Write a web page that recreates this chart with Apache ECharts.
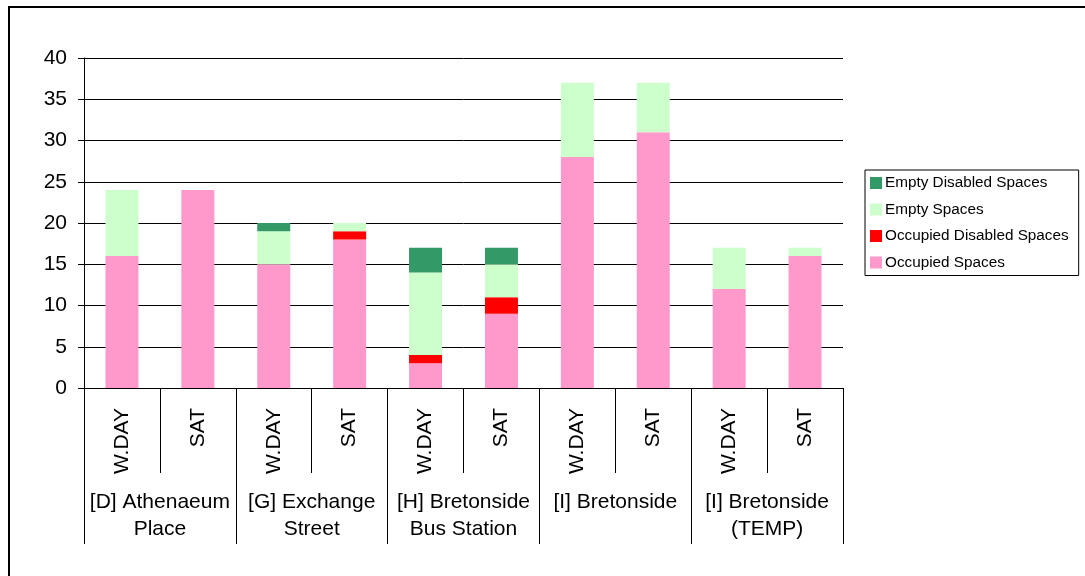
<!DOCTYPE html>
<html>
<head>
<meta charset="utf-8">
<script src="https://cdn.jsdelivr.net/npm/echarts@6/dist/echarts.min.js"></script>
<style>
  html, body { margin: 0; padding: 0; background: #fff; }
  #chart { width: 1085px; height: 576px; }
</style>
</head>
<body>
<div id="chart"></div>
<script>
// Survey days per car park, and the car parks they belong to
const days = ['W.DAY', 'SAT', 'W.DAY', 'SAT', 'W.DAY', 'SAT', 'W.DAY', 'SAT', 'W.DAY', 'SAT'];
const carParks = [
  '[D] Athenaeum\nPlace',
  '[G] Exchange\nStreet',
  '[H] Bretonside\nBus Station',
  '[I] Bretonside',
  '[I] Bretonside\n(TEMP)'
];
const yTicks = [0, 5, 10, 15, 20, 25, 30, 35, 40];

// Space counts, stacked bottom to top
const occupiedSpaces         = [16, 24, 15, 18, 3, 9, 28, 31, 12, 16];
const occupiedDisabledSpaces = [0, 0, 0, 1, 1, 2, 0, 0, 0, 0];
const emptySpaces            = [8, 0, 4, 1, 10, 4, 9, 6, 5, 1];
const emptyDisabledSpaces    = [0, 0, 1, 0, 3, 2, 0, 0, 0, 0];

const FONT = '"Liberation Sans", Arial, sans-serif';

const chart = echarts.init(document.getElementById('chart'), null, { renderer: 'canvas' });

function barSeries(name, data, color) {
  return {
    name: name,
    type: 'bar',
    stack: 'spaces',
    data: data,
    barWidth: 33,
    itemStyle: { color: color },
    emphasis: { disabled: true }
  };
}

chart.setOption({
  animation: false,
  backgroundColor: '#fff',
  textStyle: { fontFamily: FONT },
  graphic: [{
    type: 'rect',
    shape: { x: 9, y: 7, width: 1120, height: 620 },
    style: { fill: 'none', stroke: '#000', lineWidth: 2 },
    silent: true
  }],
  grid: { left: 84, right: 242, top: 58, bottom: 188 },
  legend: {
    orient: 'vertical',
    left: 865,
    top: 170,
    width: 210,
    padding: [5, 10, 5, 5],
    borderColor: '#000',
    borderWidth: 1,
    itemWidth: 12,
    itemHeight: 12,
    itemGap: 10.5,
    icon: 'rect',
    selectedMode: false,
    textStyle: { fontFamily: FONT, fontSize: 15.3, color: '#000', lineHeight: 16, padding: [0, 0, 0, -2] },
    data: ['Empty Disabled Spaces', 'Empty Spaces', 'Occupied Disabled Spaces', 'Occupied Spaces']
  },
  xAxis: [
    {
      type: 'category',
      position: 'bottom',
      data: days,
      boundaryGap: true,
      axisLine: { show: true, lineStyle: { color: '#000', width: 1 } },
      axisTick: { show: true, interval: 0, length: 85, lineStyle: { color: '#000', width: 1 } },
      axisLabel: {
        interval: 0,
        rotate: 90,
        margin: 20,
        fontFamily: FONT,
        fontSize: 21,
        color: '#000'
      },
      splitLine: { show: false }
    },
    {
      type: 'category',
      position: 'bottom',
      data: carParks,
      boundaryGap: true,
      axisLine: { show: false },
      axisTick: { show: true, interval: 0, length: 156, lineStyle: { color: '#000', width: 1 } },
      axisLabel: {
        interval: 0,
        margin: 101,
        fontFamily: FONT,
        fontSize: 21,
        lineHeight: 27,
        align: 'center',
        color: '#000'
      },
      splitLine: { show: false }
    }
  ],
  yAxis: {
    type: 'value',
    min: yTicks[0],
    max: yTicks[yTicks.length - 1],
    interval: 5,
    axisLine: { show: true, lineStyle: { color: '#000', width: 1 } },
    axisTick: { show: true, length: 6, lineStyle: { color: '#000', width: 1 } },
    axisLabel: { margin: 17, fontFamily: FONT, fontSize: 21, color: '#000' },
    splitLine: { show: true, lineStyle: { color: '#000', width: 1 } }
  },
  series: [
    barSeries('Occupied Spaces', occupiedSpaces, '#FF99CC'),
    barSeries('Occupied Disabled Spaces', occupiedDisabledSpaces, '#FF0000'),
    barSeries('Empty Spaces', emptySpaces, '#CCFFCC'),
    barSeries('Empty Disabled Spaces', emptyDisabledSpaces, '#339966')
  ]
});
</script>
</body>
</html>
